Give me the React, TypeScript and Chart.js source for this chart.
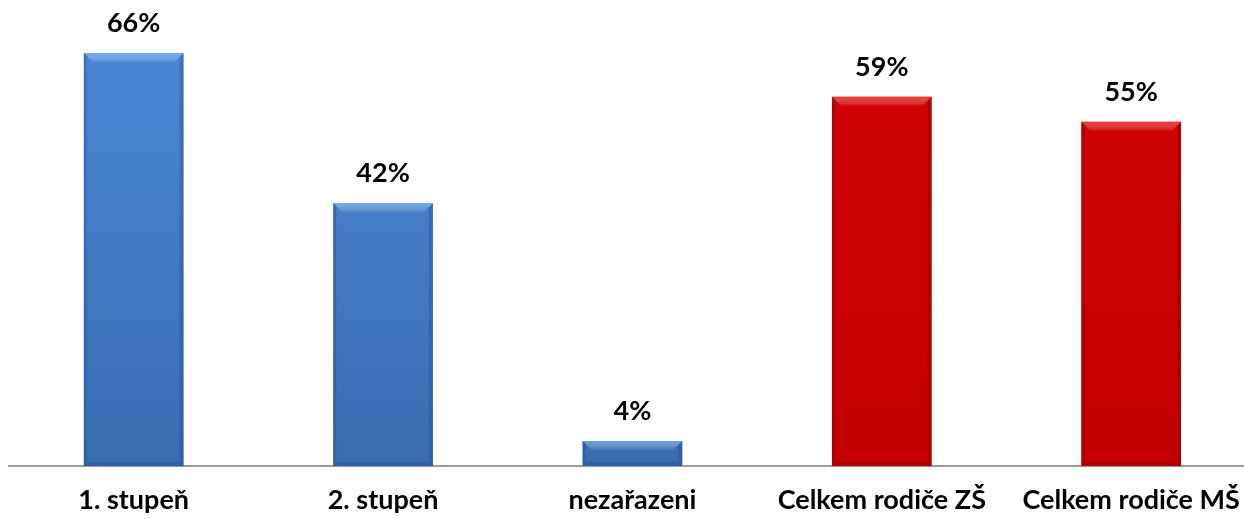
import React, { useEffect, useRef } from "react";
import { Chart, registerables } from "chart.js";

Chart.register(...registerables);

const categories = ["1. stupeň", "2. stupeň", "nezařazeni", "Celkem rodiče ZŠ", "Celkem rodiče MŠ"];
const values = [66, 42, 4, 59, 55];
const groups = ["blue", "blue", "blue", "red", "red"];

const palette: Record<string, { top: string; bottom: string; light: string; dark: string }> = {
  blue: { top: "#4a89d8", bottom: "#3a6cb0", light: "rgba(140,195,250,0.6)", dark: "rgba(30,70,130,0.3)" },
  red: { top: "#d20404", bottom: "#c40000", light: "rgba(255,90,90,0.6)", dark: "rgba(110,0,0,0.3)" },
};

const FONT = "Lato, 'Open Sans', sans-serif";

const bevelPlugin = {
  id: "bevel",
  afterDatasetsDraw(chart: any) {
    const ctx = chart.ctx;
    const meta = chart.getDatasetMeta(0);
    meta.data.forEach((bar: any, i: number) => {
      const p = palette[groups[i]];
      const w = bar.width;
      const x0 = bar.x - w / 2;
      const x1 = bar.x + w / 2;
      const y0 = bar.y;
      const y1 = bar.base;
      const b = Math.min(9, (y1 - y0) / 2);
      ctx.save();
      // top bevel
      const g = ctx.createLinearGradient(0, y0, 0, y0 + b);
      g.addColorStop(0, p.light);
      g.addColorStop(1, "rgba(255,255,255,0.05)");
      ctx.fillStyle = g;
      ctx.beginPath();
      ctx.moveTo(x0, y0);
      ctx.lineTo(x1, y0);
      ctx.lineTo(x1 - b, y0 + b);
      ctx.lineTo(x0 + b, y0 + b);
      ctx.closePath();
      ctx.fill();
      // side bevels
      ctx.fillStyle = p.dark;
      ctx.beginPath();
      ctx.moveTo(x1, y0);
      ctx.lineTo(x1, y1);
      ctx.lineTo(x1 - 4, y1 - 4);
      ctx.lineTo(x1 - 4, y0 + 4);
      ctx.closePath();
      ctx.fill();
      ctx.beginPath();
      ctx.moveTo(x0, y0);
      ctx.lineTo(x0, y1);
      ctx.lineTo(x0 + 3, y1 - 3);
      ctx.lineTo(x0 + 3, y0 + 3);
      ctx.closePath();
      ctx.fill();
      ctx.beginPath();
      ctx.moveTo(x0, y1);
      ctx.lineTo(x1, y1);
      ctx.lineTo(x1 - 4, y1 - 4);
      ctx.lineTo(x0 + 4, y1 - 4);
      ctx.closePath();
      ctx.fill();
      // label
      ctx.fillStyle = "#000";
      ctx.font = `bold 27px ${FONT}`;
      ctx.textAlign = "center";
      ctx.textBaseline = "middle";
      ctx.fillText(values[i] + "%", bar.x, y0 - 30);
      ctx.restore();
    });
  },
};

export default function App() {
  const ref = useRef<HTMLCanvasElement>(null);
  useEffect(() => {
    document.body.style.margin = "0";
    document.body.style.overflow = "hidden";
    const chart = new Chart(ref.current!, {
      type: "bar",
      data: {
        labels: categories,
        datasets: [
          {
            data: values,
            backgroundColor: (c: any) => {
              const { chart: ch, dataIndex } = c;
              const p = palette[groups[dataIndex]];
              const area = ch.chartArea;
              if (!area) return p.top;
              const el = ch.getDatasetMeta(0).data[dataIndex];
              const top = el && isFinite(el.y) ? el.y : area.top;
              const g = ch.ctx.createLinearGradient(0, top, 0, area.bottom);
              g.addColorStop(0, p.top);
              g.addColorStop(1, p.bottom);
              return g;
            },
            borderWidth: 0,
            barPercentage: 0.4,
            categoryPercentage: 1,
          },
        ],
      },
      options: {
        animation: false,
        responsive: false,
        maintainAspectRatio: false,
        layout: { padding: { left: 9, right: 1, top: 28, bottom: 0 } },
        plugins: { legend: { display: false }, tooltip: { enabled: false } },
        scales: {
          x: {
            afterFit: (scale: any) => {
              scale.height = 53;
            },
            grid: { display: false, drawTicks: false },
            border: { display: true, color: "#9a9a9a", width: 2 },
            ticks: {
              color: "#000",
              padding: 18,
              maxRotation: 0,
              autoSkip: false,
              font: { family: FONT, size: 27, weight: "bold", lineHeight: 1.2 },
            },
          },
          y: { display: false, min: 0, max: 70 },
        },
      },
      plugins: [bevelPlugin],
    });
    return () => chart.destroy();
  }, []);
  return <canvas ref={ref} width={1258} height={519} style={{ display: "block" }} />;
}
